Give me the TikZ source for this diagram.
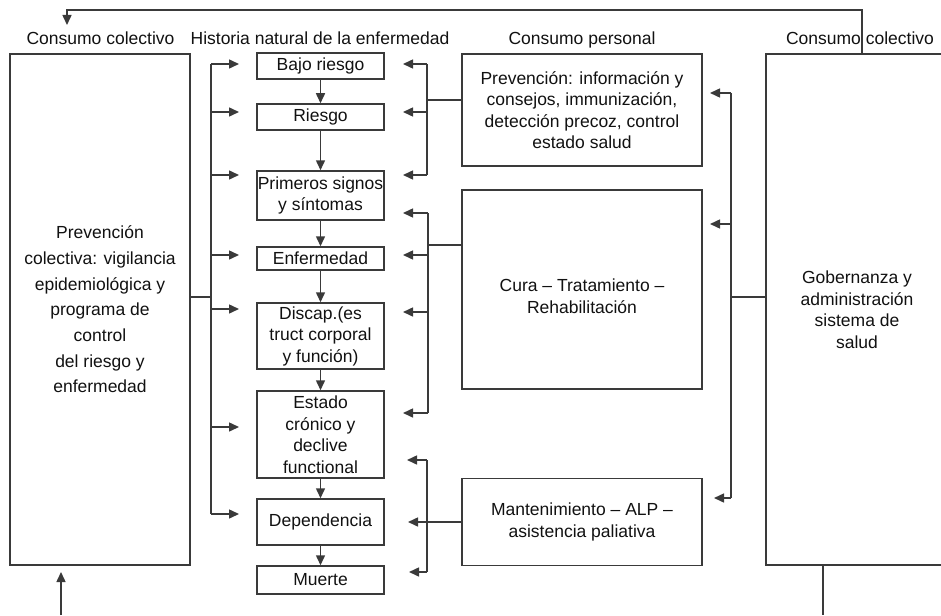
\documentclass[tikz,border=0pt]{standalone}
\usepackage{fontspec}
\setmainfont{Liberation Sans}
\usetikzlibrary{arrows.meta,calc}
\definecolor{lc}{HTML}{3A3A3A}
\definecolor{tc}{HTML}{111111}
\begin{document}
\begin{tikzpicture}[x=1pt,y=-1pt,
  ln/.style={draw=lc,line width=1.5pt},
  arr/.style={draw=lc,line width=1.5pt,-{Triangle[length=10pt,width=9pt]}},
  box/.style={draw=lc,line width=1.5pt,inner sep=0pt,align=center,text=tc,
    font=\fontsize{17.5}{21.5}\selectfont},
  txt/.style={inner sep=0pt,align=center,text=tc,font=\fontsize{17.5}{21.5}\selectfont},
  hdr/.style={text=tc,inner sep=0pt,anchor=base,font=\fontsize{17.5}{21}\selectfont}]
\clip (0,0) rectangle (941,615);
% headers
\node[hdr] (h1) at (100.5,45) {Consumo colectivo};
\node[hdr] (h2) at (320,45) {Historia natural de la enfermedad};
\node[hdr] (h3) at (582,45) {Consumo personal};
\node[hdr] (h4) at (860,45) {Consumo colectivo};
% left box
\node[box,minimum width=180pt,minimum height=511pt,font=\fontsize{17.5}{25.7}\selectfont] (lb) at (100,309.5)
  {Prevención\\colectiva: vigilancia\\epidemiológica y\\programa de\\control\\del riesgo y\\enfermedad};
% middle column
\node[box,minimum width=127pt,minimum height=26pt] (bajo) at (320.5,66) {Bajo riesgo};
\node[box,minimum width=127pt,minimum height=26pt] (riesgo) at (320.5,117) {Riesgo};
\node[box,minimum width=127pt,minimum height=49pt] (prim) at (320.5,195.5) {Primeros signos\\y síntomas};
\node[box,minimum width=127pt,minimum height=23pt] (enf) at (320.5,258.5) {Enfermedad};
\node[box,minimum width=127pt,minimum height=66pt] (disc) at (320.5,336) {Discap.(es\\truct corporal\\y función)};
\node[box,minimum width=127pt,minimum height=87pt] (est) at (320.5,434.5) {Estado\\crónico y\\declive\\functional};
\node[box,minimum width=127pt,minimum height=46pt] (dep) at (320.5,522) {Dependencia};
\node[box,minimum width=127pt,minimum height=28pt] (mue) at (320.5,580) {Muerte};
% right column
\node[box,minimum width=240pt,minimum height=112pt] (prev) at (582,110)
  {Prevención: información y\\consejos, immunización,\\detección precoz, control\\estado salud};
\node[box,minimum width=240pt,minimum height=199pt] (cura) at (582,289.5) {};
\node[txt] (curat) at (582,296) {Cura – Tratamiento –\\Rehabilitación};
\node[box,minimum width=240pt,minimum height=87pt] (mant) at (582,522)
  {Mantenimiento – ALP –\\asistencia paliativa};
\node[box,minimum width=182pt,minimum height=511pt] (gob) at (857,309.5)
  {Gobernanza y\\administración\\sistema de\\salud};
% chain arrows
\draw[arr] (bajo) -- (riesgo);
\draw[arr] (riesgo) -- (prim);
\draw[arr] (prim) -- (enf);
\draw[arr] (enf) -- (disc);
\draw[arr] (disc) -- (est);
\draw[arr] (est) -- (dep);
\draw[arr] (dep) -- (mue);
% top feedback
\coordinate (tr) at (862,10);
\coordinate (tl) at (67,10);
\coordinate (tt) at (67,25);
\draw[arr] (tr |- gob.north) -- (tr) -- (tl) -- (tt);
% bottom lines
\coordinate (gb) at (823,615);
\draw[ln] (gb |- gob.south) -- (gb);
\coordinate (lbb) at (61,615);
\coordinate (lbt) at (61,572);
\draw[arr] (lbb) -- (lbt);
% left bus
\coordinate (lc) at (211,297);
\coordinate (lbtop) at (211,64);
\coordinate (lbbot) at (211,514);
\draw[ln] (lc -| lb.east) -- (lc);
\draw[ln] (lbtop) -- (lbbot);
\foreach \yy/\n in {64/1,112/2,175/3,255/4,309/5,427/6,514/7}{
  \coordinate (ls\n) at (211,\yy);
  \coordinate (le\n) at (239,\yy);
  \draw[arr] (ls\n) -- (le\n);
}
% right bus 1
\coordinate (r1c) at (427,100);
\draw[ln] (r1c -| prev.west) -- (r1c);
\coordinate (r1t) at (427,64);
\coordinate (r1b) at (427,175);
\draw[ln] (r1t) -- (r1b);
\foreach \yy/\n in {64/1,112/2,175/3}{
  \coordinate (ra\n) at (427,\yy);
  \coordinate (rb\n) at (403,\yy);
  \draw[arr] (ra\n) -- (rb\n);
}
% right bus 2
\coordinate (r2c) at (428,245);
\draw[ln] (r2c -| cura.west) -- (r2c);
\coordinate (r2t) at (428,213);
\coordinate (r2b) at (428,413);
\draw[ln] (r2t) -- (r2b);
\foreach \yy/\n in {213/1,255/2,312/3,413/4}{
  \coordinate (sa\n) at (428,\yy);
  \coordinate (sb\n) at (403,\yy);
  \draw[arr] (sa\n) -- (sb\n);
}
% right bus 3
\coordinate (r3t) at (427,460);
\coordinate (r3b) at (427,572);
\draw[ln] (r3t) -- (r3b);
\coordinate (t3a) at (407,460);
\coordinate (t3b) at (409,572);
\draw[arr] (r3t) -- (t3a);
\draw[arr] (r3b) -- (t3b);
\coordinate (dt) at (408,522);
\draw[arr] (mant) -- (dt);
% far right bus
\coordinate (fc) at (731,297);
\draw[ln] (fc -| gob.west) -- (fc);
\coordinate (ft) at (731,93);
\coordinate (fb) at (731,498);
\draw[ln] (ft) -- (fb);
\coordinate (fa1) at (710,93);
\coordinate (fm) at (731,224);
\coordinate (fa2) at (710,224);
\coordinate (fa3) at (714,498);
\draw[arr] (ft) -- (fa1);
\draw[arr] (fm) -- (fa2);
\draw[arr] (fb) -- (fa3);
\end{tikzpicture}
\end{document}
